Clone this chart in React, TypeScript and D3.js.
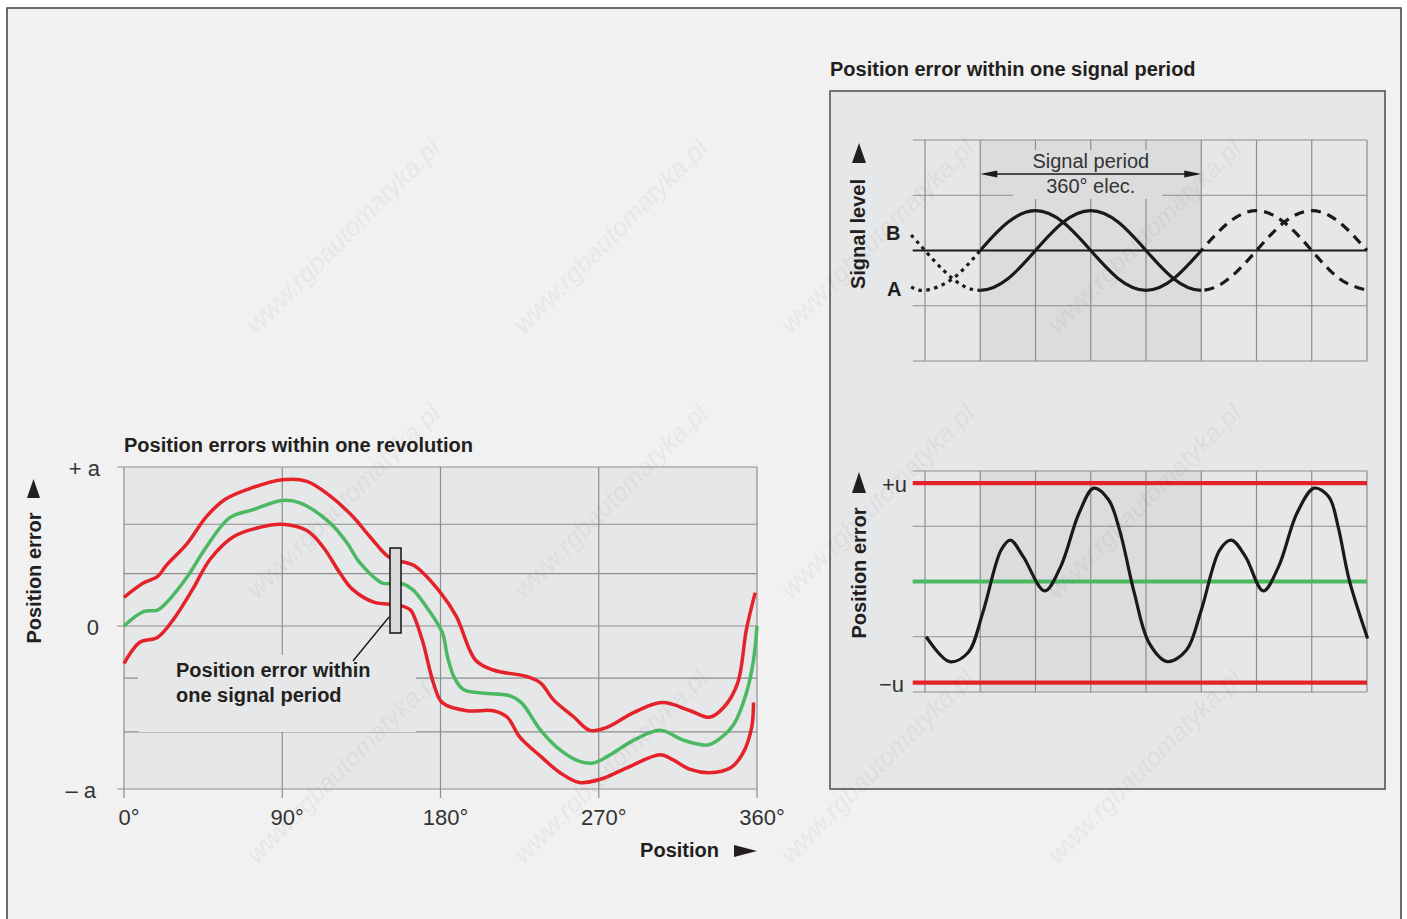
import React from 'react';
import * as d3 from 'd3';

const W = 1407;
const H = 919;

// ---- left chart: position errors within one revolution (deg, error in units of a)
const revTicks = [0, 90, 180, 270, 360];
const revGrid = [1, 0.64, 0.33, 0, -0.32, -0.65, -1];
const revLabels = [
  { v: 1, t: '+ a', x: 100 },
  { v: 0, t: '0', x: 99 },
  { v: -1, t: '– a', x: 96 },
];
const upperRed: [number, number][] = [
  [0, 0.18], [11, 0.27], [19, 0.31], [24, 0.38], [36, 0.52], [47, 0.69], [58, 0.8], [73, 0.87],
  [90, 0.92], [104, 0.91], [117, 0.82], [130, 0.69], [140, 0.56], [151, 0.43], [160, 0.4],
  [165, 0.38], [180, 0.21], [189, 0.06], [200, -0.21], [210, -0.27], [229, -0.31], [237, -0.35],
  [244, -0.45], [256, -0.56], [265, -0.64], [275, -0.62], [290, -0.53], [306, -0.47], [322, -0.52],
  [333, -0.56], [341, -0.5], [349, -0.35], [354, -0.02], [359, 0.21],
];
const greenMean: [number, number][] = [
  [0, 0], [11, 0.09], [19, 0.1], [24, 0.145], [36, 0.31], [47, 0.5], [60, 0.68], [73, 0.73],
  [90, 0.79], [100, 0.775], [117, 0.65], [127, 0.52], [134, 0.4], [147, 0.27], [157, 0.27],
  [164, 0.23], [172, 0.12], [181, -0.04], [184, -0.19], [188, -0.32], [193, -0.39], [202, -0.41],
  [220, -0.43], [226, -0.47], [237, -0.64], [248, -0.76], [259, -0.83], [267, -0.84], [275, -0.8],
  [290, -0.7], [305, -0.64], [318, -0.7], [332, -0.73], [339, -0.69], [347, -0.6], [354, -0.41],
  [358, -0.21], [360, 0],
];
const lowerRed: [number, number][] = [
  [0, -0.23], [9, -0.1], [19, -0.07], [28, 0.04], [39, 0.23], [49, 0.42], [62, 0.56], [77, 0.62],
  [90, 0.64], [104, 0.6], [113, 0.5], [123, 0.33], [130, 0.23], [142, 0.15], [157, 0.13],
  [163, 0.1], [165, 0.06], [170, -0.1], [176, -0.35], [181, -0.47], [195, -0.52], [210, -0.52],
  [218, -0.56], [225, -0.68], [237, -0.8], [248, -0.9], [259, -0.96], [271, -0.94], [286, -0.87],
  [305, -0.79], [312, -0.82], [322, -0.88], [333, -0.9], [345, -0.87], [352, -0.78], [357, -0.62],
  [358, -0.47],
];

// ---- right chart: one signal period (electrical degrees)
const elecTicks = [0, 90, 180, 270, 360, 450, 540, 630, 720];
const levelGrid = [-2, -1, 0, 1, 2];
const signalDeg = [-22.5, 0, 45, 90, 135, 180, 225, 270, 315, 360, 405, 450, 495, 540, 585, 630, 675, 720];
const signalA = [-0.66, -0.72, -0.51, 0, 0.51, 0.72, 0.51, 0, -0.51, -0.72, -0.51, 0, 0.51, 0.72, 0.51, 0, -0.51, -0.72];
const signalB = [0.28, 0, -0.51, -0.72, -0.51, 0, 0.51, 0.72, 0.51, 0, -0.51, -0.72, -0.51, 0, 0.51, 0.72, 0.51, 0];
const periodErr: [number, number][] = [
  [2, -1.0], [40, -1.45], [70, -1.29], [94, -0.57], [124, 0.57], [139, 0.75], [160, 0.45],
  [195, -0.17], [221, 0.27], [251, 1.24], [275, 1.69], [299, 1.48], [317, 0.93], [341, -0.21],
  [365, -1.11], [395, -1.45], [426, -1.24], [450, -0.52], [480, 0.57], [499, 0.75], [522, 0.45],
  [551, -0.17], [576, 0.27], [606, 1.24], [634, 1.69], [658, 1.53], [673, 0.99], [691, 0.03],
  [721, -1.03],
];
const uLimits = [
  { v: 1.78, t: '+u', x: 907 },
  { v: -1.83, t: '−u', x: 904 },
];

const RED = '#e5222a';
const GREEN = '#4bb862';
const INK = '#231f20';
const GRID = '#8e8e8e';
const PLOT = '#e6e7e9';
const SHADE = '#dbdcde';
const FONT = '"Liberation Sans", Arial, Helvetica, sans-serif';

export default function App() {
  const xL = d3.scaleLinear().domain([0, 360]).range([124, 757]);
  const yL = d3.scaleLinear().domain([-1, 0, 1]).range([789, 626, 467]);
  const revLine = d3
    .line<[number, number]>()
    .x((d) => xL(d[0]))
    .y((d) => yL(d[1]))
    .curve(d3.curveCatmullRom.alpha(0.5));

  const xR = d3.scaleLinear().domain([0, 720]).range([925, 1367]);
  const ySig = d3.scaleLinear().domain([-2, 2]).range([361, 140]);
  const yErr = d3.scaleLinear().domain([-2, 2]).range([692, 471]);
  const sigLine = d3
    .line<number>()
    .x((_, i) => xR(signalDeg[i]))
    .y((d) => ySig(d))
    .curve(d3.curveNatural);
  const errLine = d3
    .line<[number, number]>()
    .x((d) => xR(d[0]))
    .y((d) => yErr(d[1]))
    .curve(d3.curveCatmullRom.alpha(0.5));

  const gridStart = xR(-20);

  // faint watermark, only where it fits inside the page
  const marks: [number, number][] = [];
  for (let i = 1; i <= 4; i++) for (let j = 0; j <= 2; j++) marks.push([175 + 267 * i, 150 + 265 * j]);

  const rightGrid = (yS: d3.ScaleLinear<number, number>, key: string) => (
    <g key={key}>
      <rect x={xR(90)} y={yS(2)} width={xR(450) - xR(90)} height={yS(-2) - yS(2)} fill={SHADE} />
      {levelGrid.map((v) => (
        <line key={'h' + v} x1={gridStart} x2={xR(720)} y1={yS(v)} y2={yS(v)} stroke={GRID} strokeWidth={1.2} />
      ))}
      {elecTicks.map((t) => (
        <line key={'v' + t} x1={xR(t)} x2={xR(t)} y1={yS(2)} y2={yS(-2)} stroke={GRID} strokeWidth={1.2} />
      ))}
    </g>
  );

  const sigClips = [
    { id: 'clipDot', x0: 880, x1: xR(90), dash: '3.5 4.5' },
    { id: 'clipSolid', x0: xR(90), x1: xR(450), dash: undefined },
    { id: 'clipDash', x0: xR(450), x1: 1380, dash: '10 7' },
  ];

  return (
    <svg
      width={W}
      height={H}
      viewBox={`0 0 ${W} ${H}`}
      style={{ position: 'absolute', left: 0, top: 0, background: '#fff' }}
      fontFamily={FONT}
    >
      <defs>
        {sigClips.map((c) => (
          <clipPath key={c.id} id={c.id}>
            <rect x={c.x0} y={100} width={c.x1 - c.x0} height={300} />
          </clipPath>
        ))}
      </defs>
      <rect x={7} y={8} width={1394} height={940} fill="#f1f1f1" stroke="#3c3c3c" strokeWidth={1.5} />

      {/* ---------- left chart ---------- */}
      <text x={124} y={452} fontSize={20} fontWeight="bold" fill={INK}>
        Position errors within one revolution
      </text>
      <rect x={xL(0)} y={yL(1)} width={xL(360) - xL(0)} height={yL(-1) - yL(1)} fill={PLOT} />
      {revGrid.map((v) => (
        <line
          key={v}
          x1={Math.abs(v) === 1 || v === 0 ? 117 : xL(0)}
          x2={xL(360)}
          y1={yL(v)}
          y2={yL(v)}
          stroke={GRID}
          strokeWidth={1.2}
        />
      ))}
      {revTicks.map((t) => (
        <line key={t} x1={xL(t)} x2={xL(t)} y1={yL(1)} y2={yL(-1) + 9} stroke={GRID} strokeWidth={1.2} />
      ))}
      <rect x={138} y={655} width={278} height={77} fill={PLOT} />
      <path d={revLine(upperRed) ?? ''} fill="none" stroke={RED} strokeWidth={3.5} strokeLinejoin="round" />
      <path d={revLine(lowerRed) ?? ''} fill="none" stroke={RED} strokeWidth={3.5} strokeLinejoin="round" />
      <path d={revLine(greenMean) ?? ''} fill="none" stroke={GREEN} strokeWidth={3.5} strokeLinejoin="round" />
      <rect x={390} y={548} width={11} height={85} fill="#dadadb" stroke="#111" strokeWidth={1.5} />
      <line x1={389} y1={617} x2={353} y2={661} stroke="#111" strokeWidth={1.3} />
      <text x={176} y={677} fontSize={20} fontWeight="bold" fill={INK}>
        Position error within
      </text>
      <text x={176} y={702} fontSize={20} fontWeight="bold" fill={INK}>
        one signal period
      </text>
      {revLabels.map((l) => (
        <text key={l.t} x={l.x} y={yL(l.v) + 9} fontSize={22} textAnchor="end" fill="#333">
          {l.t}
        </text>
      ))}
      {revTicks.map((t) => (
        <text key={t} x={xL(t) + 5} y={825} fontSize={22} textAnchor="middle" fill="#333">
          {t}°
        </text>
      ))}
      <path d="M33.5,479 L40,498 L27,498 Z" fill={INK} />
      <text transform="translate(41,578) rotate(-90)" fontSize={20} fontWeight="bold" textAnchor="middle" fill={INK}>
        Position error
      </text>
      <text x={719} y={857} fontSize={20} fontWeight="bold" textAnchor="end" fill={INK}>
        Position
      </text>
      <path d="M734,845 L757,851 L734,857 Z" fill={INK} />

      {/* ---------- right panel ---------- */}
      <text x={830} y={76} fontSize={20} fontWeight="bold" fill={INK}>
        Position error within one signal period
      </text>
      <rect x={830} y={91} width={555} height={698} fill={PLOT} stroke="#4a4a4a" strokeWidth={1.5} />

      {/* signal level */}
      {rightGrid(ySig, 'sigGrid')}
      <rect x={1013} y={150} width={149} height={49} fill={SHADE} />
      <line x1={gridStart} x2={xR(720)} y1={ySig(0)} y2={ySig(0)} stroke="#1a1a1a" strokeWidth={1.8} />
      <text x={xR(270)} y={168} fontSize={20} textAnchor="middle" fill="#333">
        Signal period
      </text>
      <text x={xR(270)} y={193} fontSize={20} textAnchor="middle" fill="#333">
        360° elec.
      </text>
      <line x1={xR(90) + 10} x2={xR(450) - 10} y1={174} y2={174} stroke="#1a1a1a" strokeWidth={1.3} />
      <path d={`M${xR(90)},174 L${xR(90) + 17},170.5 L${xR(90) + 17},177.5 Z`} fill="#1a1a1a" />
      <path d={`M${xR(450)},174 L${xR(450) - 17},170.5 L${xR(450) - 17},177.5 Z`} fill="#1a1a1a" />
      {sigClips.map((c) => (
        <g key={c.id} clipPath={`url(#${c.id})`}>
          {[signalA, signalB].map((s, k) => (
            <path
              key={k}
              d={sigLine(s) ?? ''}
              fill="none"
              stroke="#1a1a1a"
              strokeWidth={3.2}
              strokeDasharray={c.dash}
            />
          ))}
        </g>
      ))}
      <text x={886} y={240} fontSize={20} fontWeight="bold" fill={INK}>
        B
      </text>
      <text x={887} y={296} fontSize={20} fontWeight="bold" fill={INK}>
        A
      </text>
      <path d="M859,143 L866,163 L852,163 Z" fill={INK} />
      <text transform="translate(865,234) rotate(-90)" fontSize={20} fontWeight="bold" textAnchor="middle" fill={INK}>
        Signal level
      </text>

      {/* position error within period */}
      {rightGrid(yErr, 'errGrid')}
      {uLimits.map((u) => (
        <g key={u.t}>
          <line x1={gridStart} x2={xR(720)} y1={yErr(u.v)} y2={yErr(u.v)} stroke={RED} strokeWidth={4.2} />
          <text x={u.x} y={yErr(u.v) + 9} fontSize={22} textAnchor="end" fill="#333">
            {u.t}
          </text>
        </g>
      ))}
      <line x1={gridStart} x2={xR(720)} y1={yErr(0)} y2={yErr(0)} stroke={GREEN} strokeWidth={4.2} />
      <path d={errLine(periodErr) ?? ''} fill="none" stroke="#1a1a1a" strokeWidth={3.2} strokeLinejoin="round" />
      <path d="M859,472 L866,493 L852,493 Z" fill={INK} />
      <text transform="translate(866,573) rotate(-90)" fontSize={20} fontWeight="bold" textAnchor="middle" fill={INK}>
        Position error
      </text>

      {/* watermark */}
      <g fontSize={26} fontStyle="italic" fill="#000" opacity={0.045} textAnchor="end">
        {marks.map(([x, y], i) => (
          <text key={i} transform={`translate(${x},${y}) rotate(-45)`}>
            www.rgbautomatyka.pl
          </text>
        ))}
      </g>
    </svg>
  );
}
